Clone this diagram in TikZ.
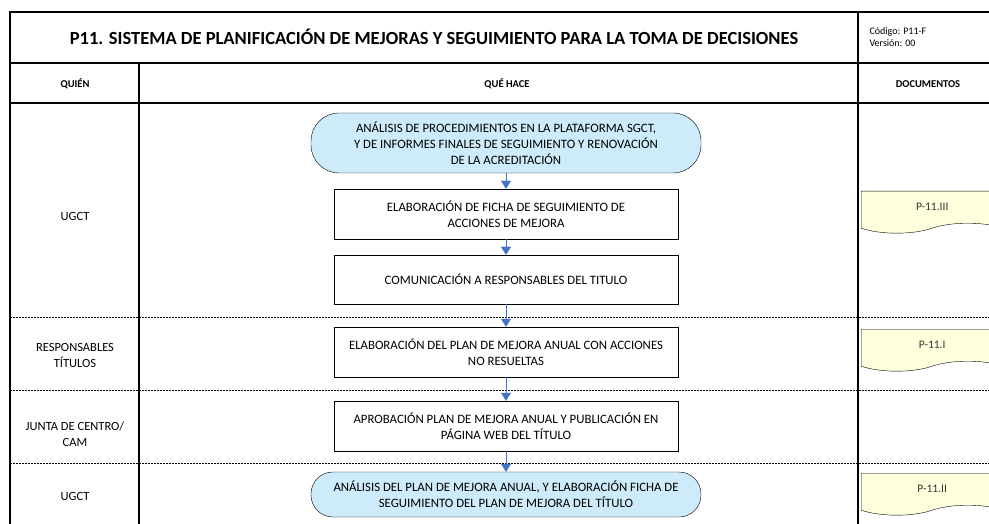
\documentclass[tikz,border=0pt]{standalone}
\usepackage{fontspec}
\setmainfont{Carlito}
\usetikzlibrary{shapes.symbols, arrows.meta}

\definecolor{flowblue}{HTML}{4472C4}
\definecolor{termfill}{HTML}{CDEBFA}
\definecolor{docfill}{HTML}{FFFFDE}

\begin{document}
\begin{tikzpicture}[x=1pt, y=-1pt,
  stepbox/.style={draw, thin, minimum width=344pt, minimum height=50pt, align=center,
    inner sep=1pt, font=\fontsize{12.8}{16}\selectfont},
  terminal/.style={stepbox, fill=termfill, minimum width=390pt},
  docbox/.style={tape, tape bend top=none, tape bend height=10pt, draw, thin, fill=docfill,
    minimum width=142pt, minimum height=42pt, anchor=north west, text=black!80,
    font=\fontsize{11.5}{13}\selectfont},
  headtext/.style={font=\bfseries\fontsize{10.5}{12}\selectfont},
  lanetext/.style={align=center, font=\fontsize{12.5}{16}\selectfont},
  flow/.style={flowblue, thin, -{Triangle[width=10pt,length=8pt]}},
  lane/.style={thin, dash pattern=on 2pt off 1pt}]

\useasboundingbox (0,0) rectangle (989,524);
\clip (0,0) rectangle (989,524);

% table frame
\draw[line width=2.5pt] (10,12) rectangle (1001,540);
\draw[line width=2pt] (10,63) -- (1001,63);
\draw[line width=2pt] (10,103) -- (1001,103);
\draw[line width=2pt] (139,63) -- (139,540);
\draw[line width=2pt] (858,12) -- (858,540);

% lanes
\draw[lane] (10,317) -- (1001,317);
\draw[lane] (10,390) -- (1001,390);
\draw[lane] (10,463) -- (1001,463);

% headings
\node (title) at (434,37) [font=\bfseries\fontsize{18.5}{22}\selectfont]
{P11. SISTEMA DE PLANIFICACIÓN DE MEJORAS Y SEGUIMIENTO PARA LA TOMA DE DECISIONES};
\node (code) at (866,37) [anchor=west, align=left, font=\fontsize{10}{11.5}\selectfont]
{Código: P11-F\\Versión: 00};
\node (who) at (75,84) [headtext] {QUIÉN};
\node (what) at (507,84) [headtext] {QUÉ HACE};
\node (docs) at (928,84) [headtext] {DOCUMENTOS};

% who
\node (ugct1) at (75,216) [lanetext] {UGCT};
\node (resp) at (75,355) [lanetext] {RESPONSABLES\\TÍTULOS};
\node (junta) at (75,434) [lanetext] {JUNTA DE CENTRO/\\CAM};
\node (ugct2) at (75,496) [lanetext] {UGCT};

% what
\node (analisis) at (506,143) [terminal, minimum height=60pt, rounded corners=28pt]
{ANÁLISIS DE PROCEDIMIENTOS EN LA PLATAFORMA SGCT,\\
Y DE INFORMES FINALES DE SEGUIMIENTO Y RENOVACIÓN\\
DE LA ACREDITACIÓN};
\node (ficha) at (506,214) [stepbox]
{ELABORACIÓN DE FICHA DE SEGUIMIENTO DE\\ACCIONES DE MEJORA};
\node (comunica) at (506,279.5) [stepbox, minimum height=49pt]
{COMUNICACIÓN A RESPONSABLES DEL TITULO};
\node (plan) at (506,352) [stepbox]
{ELABORACIÓN DEL PLAN DE MEJORA ANUAL CON ACCIONES\\NO RESUELTAS};
\node (aprueba) at (506,426) [stepbox]
{APROBACIÓN PLAN DE MEJORA ANUAL Y PUBLICACIÓN EN\\PÁGINA WEB DEL TÍTULO};
\node (seguim) at (506,494.5) [terminal, minimum height=45pt, rounded corners=22pt]
{ANÁLISIS DEL PLAN DE MEJORA ANUAL, Y ELABORACIÓN FICHA DE\\
SEGUIMIENTO DEL PLAN DE MEJORA DEL TÍTULO};

\draw[flow] (analisis) -- (ficha);
\draw[flow] (ficha) -- (comunica);
\draw[flow] (comunica) -- (plan);
\draw[flow] (plan) -- (aprueba);
\draw[flow] (aprueba) -- (seguim);

% documents
\node (docIII) at (861,191) [docbox] {P-11.III};
\node (docI) at (861,329) [docbox] {P-11.I};
\node (docII) at (861,473) [docbox] {P-11.II};

\end{tikzpicture}
\end{document}
